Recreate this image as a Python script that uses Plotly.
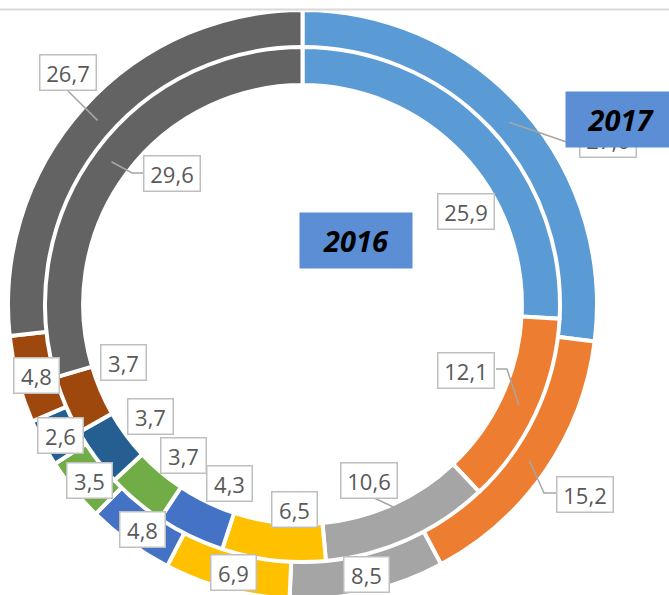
import math
import plotly.graph_objects as go

# ---------------- data ----------------
categories = ["Категория 1", "Категория 2", "Категория 3", "Категория 4", "Категория 5",
              "Категория 6", "Категория 7", "Категория 8", "Категория 9"]
values_2016 = [25.9, 12.1, 10.6, 6.5, 4.3, 3.7, 3.7, 3.7, 29.6]
values_2017 = [27.0, 15.2, 8.5, 6.9, 4.8, 3.5, 2.6, 4.8, 26.7]
series_names = ["2016", "2017"]
colors = ["#5B9BD5", "#ED7D31", "#A5A5A5", "#FFC000", "#4472C4",
          "#70AD47", "#255E91", "#9E480E", "#636363"]

# ---------------- layout helpers ----------------
W, H = 669, 600                # figure slightly taller than the window; bottom clipped
OFF = 0
CX, CY = 302.5, 304.5          # donut centre (page px)
R_OUT, R_IN = 294.5, 257.5     # outer radius of each pie (incl. white stroke)
HOLE_OUT, HOLE_IN = 0.871, 0.852
STROKE = 4


def px(x):
    return (x - OFF) / W


def py(y):
    return 1 - (y - OFF) / H


def dom(r):
    cx, cy = CX - OFF, H - (CY - OFF)
    return dict(x=[(cx - r) / W, (cx + r) / W], y=[(cy - r) / H, (cy + r) / H])


fig = go.Figure()
fig.add_trace(go.Pie(labels=categories, values=values_2017, name=series_names[1],
                     hole=HOLE_OUT, sort=False, direction="clockwise", rotation=0,
                     marker=dict(colors=colors, line=dict(color="white", width=STROKE)),
                     textinfo="none", hoverinfo="label+value", domain=dom(R_OUT)))
fig.add_trace(go.Pie(labels=categories, values=values_2016, name=series_names[0],
                     hole=HOLE_IN, sort=False, direction="clockwise", rotation=0,
                     marker=dict(colors=colors, line=dict(color="white", width=STROKE)),
                     textinfo="none", hoverinfo="label+value", domain=dom(R_IN)))


def slice_point(values, i, r):
    total = sum(values)
    frac = (sum(values[:i]) + values[i] / 2) / total
    th = 2 * math.pi * frac
    return CX + r * math.sin(th), CY - r * math.cos(th)


def fmt(v):
    return f"{v:.1f}".replace(".", ",")


# label box centres (page px)
pos_2016 = [(466, 212), (466, 370), (369, 480), (294, 509), (230, 483),
            (183, 455), (150, 416), (123, 362), (172, 173)]
pos_2017 = [(608, 139), (585, 494), (366, 574), (233, 572), (142, 529),
            (89, 480), (60, 435), (36, 375), (68, 72)]

annotations = []
shapes = []

mid_out = (R_OUT * HOLE_OUT + R_OUT) / 2
mid_in = (R_IN * HOLE_IN + R_IN) / 2
leaders = [
    ("2017", 8, (68, 91), None, mid_out),
    ("2016", 8, (143, 173), (132, 173), mid_in),
    ("2016", 1, (496, 369), (507, 369), mid_in),
    ("2017", 1, (556, 493), (544, 493), mid_out),
    ("2016", 2, (372, 497), None, R_IN * HOLE_IN + 3),
    ("2017", 0, (590, 150), None, mid_out),
]
series_vals = {"2016": values_2016, "2017": values_2017}
for s, i, start, elbow, r in leaders:
    ex, ey = slice_point(series_vals[s], i, r)
    pts = [start] + ([elbow] if elbow else []) + [(ex, ey)]
    path = "M " + " L ".join(f"{px(x)},{py(y)}" for x, y in pts)
    shapes.append(dict(type="path", xref="paper", yref="paper", path=path,
                       line=dict(color="#A6A6A6", width=1.5), layer="above"))

label_font = dict(family="Open Sans, Liberation Sans, sans-serif", size=22, color="#595959")
for vals, pos in ((values_2016, pos_2016), (values_2017, pos_2017)):
    for v, (x, y) in zip(vals, pos):
        t = fmt(v)
        w = 55 if len(t) > 3 else 44
        annotations.append(dict(x=px(x), y=py(y), xref="paper", yref="paper",
                                text=t, showarrow=False, font=label_font,
                                bgcolor="white", bordercolor="#BFBFBF", borderwidth=1.5,
                                borderpad=0, width=w, height=34,
                                xanchor="center", yanchor="middle"))

# series name boxes
name_font = dict(family="Open Sans, Liberation Sans, sans-serif", size=29, color="black")
annotations.append(dict(x=px(356), y=py(240), xref="paper", yref="paper",
                        text="<b><i>" + series_names[0] + "</i></b>", showarrow=False,
                        font=name_font, bgcolor="#5B8ED4", borderpad=0,
                        width=112, height=55, xanchor="center", yanchor="middle"))
annotations.append(dict(x=px(621), y=py(120), xref="paper", yref="paper",
                        text="<b><i>" + series_names[1] + "</i></b>", showarrow=False,
                        font=name_font, bgcolor="#5B8ED4", borderpad=0,
                        width=110, height=55, xanchor="center", yanchor="middle"))

# top separator line
shapes.append(dict(type="line", xref="paper", yref="paper", x0=0, x1=1,
                   y0=py(9.5), y1=py(9.5), line=dict(color="#D9D9D9", width=2)))

fig.update_layout(width=W, height=H, margin=dict(l=0, r=0, t=0, b=0),
                  paper_bgcolor="white", plot_bgcolor="white", showlegend=False,
                  annotations=annotations, shapes=shapes)

fig.write_html("out.html", config={"displayModeBar": False},
               post_script="document.body.style.margin='0';"
                           "document.body.style.overflow='hidden';")
